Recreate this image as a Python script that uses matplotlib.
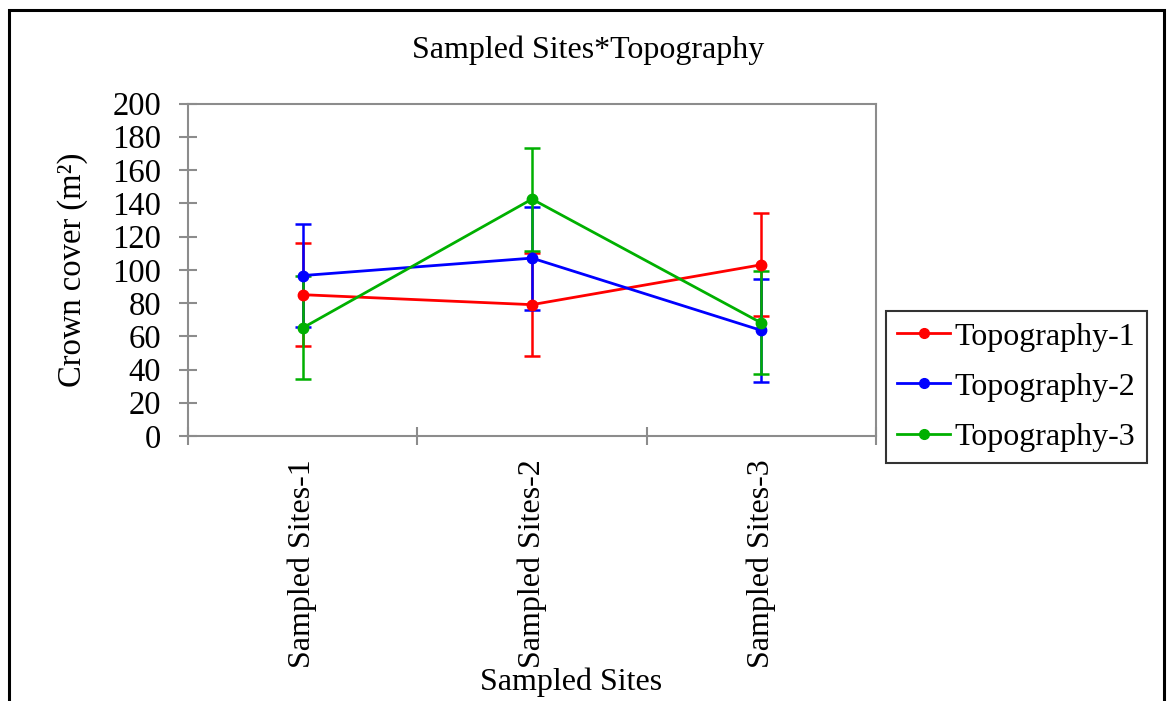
import numpy as np
import matplotlib
matplotlib.use("Agg")
import matplotlib.pyplot as plt
from matplotlib.patches import Rectangle
from matplotlib.lines import Line2D

plt.rcParams['font.family'] = ['Liberation Serif', 'DejaVu Serif']

# mean crown cover per sampled site, one list per topography class
sites = ['Sampled Sites-1', 'Sampled Sites-2', 'Sampled Sites-3']
topo1 = [85, 79, 103]
topo2 = [96.5, 107, 63.5]
topo3 = [65, 142.5, 68]
# standard errors
err1 = [31, 31, 31]
err2 = [31, 31, 31]
err3 = [31, 31, 31]

series = [
    ('Topography-1', topo1, err1, '#ff0000'),
    ('Topography-2', topo2, err2, '#0000ff'),
    ('Topography-3', topo3, err3, '#00b000'),
]

fig = plt.figure(figsize=(11.68, 7.01), dpi=100)
ax = fig.add_axes([188 / 1168, 265 / 701, 688 / 1168, 332.5 / 701])

x = np.arange(1, len(sites) + 1)
handles = []
for name, vals, err, col in series:
    ax.errorbar(x, vals, yerr=err, color=col, lw=2, marker='o', markersize=7.5,
                elinewidth=1.8, capsize=6, capthick=1.8)
    handles.append(Line2D([], [], color=col, lw=2, marker='o', markersize=7,
                          label=name))

grey = '#8c8c8c'
ax.set_xlim(0.5, len(sites) + 0.5)
ax.set_ylim(0, 200)
ax.set_yticks(np.arange(0, 201, 20))
ax.set_xticks(x)
ax.set_xticklabels(sites, rotation=90, fontsize=23)
ax.set_xticks(np.arange(0.5, len(sites) + 1, 1), minor=True)
ax.tick_params(axis='x', which='major', length=0, pad=17)
ax.tick_params(axis='x', which='minor', direction='inout', length=13, width=1.5, color=grey)
ax.tick_params(axis='y', direction='inout', length=13, width=1.5, color=grey,
               labelsize=23.5, pad=13)
for sp in ax.spines.values():
    sp.set_color(grey)
    sp.set_linewidth(1.5)

ax.set_ylabel('Crown cover (m²)', fontsize=23.5, labelpad=17)
fig.text(571 / 1168, 1 - 682 / 701, 'Sampled Sites', ha='center',
         va='center', fontsize=23)
fig.text(588 / 1168, 1 - 50 / 701, 'Sampled Sites*Topography', ha='center',
         va='center', fontsize=23)

leg = ax.legend(handles=handles, loc='upper left',
                bbox_to_anchor=(886 / 1168, 1 - 311 / 701),
                bbox_transform=fig.transFigure, fontsize=23, frameon=True,
                fancybox=False, edgecolor='black', handlelength=1.65,
                handletextpad=0.15, borderpad=0.35, labelspacing=0.65,
                borderaxespad=0)
leg.get_frame().set_linewidth(1.5)

# black chart border, open at the bottom edge
fig.patches.append(Rectangle((9 / 1168, -0.05), 1155 / 1168, 1.05 - 10 / 701,
                             transform=fig.transFigure, fill=False,
                             edgecolor='black', lw=2.2))

fig.savefig('out.png', dpi=100)
